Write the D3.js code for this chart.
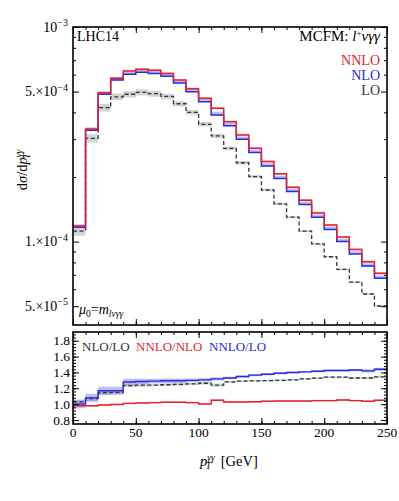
<!DOCTYPE html>
<html>
<head>
<meta charset="utf-8">
<script src="https://cdn.jsdelivr.net/npm/d3@7"></script>
<style>
    body { margin: 0; background: #fff; }
    svg { display: block; }
    svg text { font-family: 'Liberation Serif', 'Times New Roman', Times, 'DejaVu Serif', serif; }
</style>
</head>
<body>
<div id="chart"></div>
<script>
// Bin edges in p_T^{γγ} (GeV)
const binEdges = [0, 10, 20, 30, 40, 50, 60, 70, 80, 90, 100, 110, 120, 130, 140, 150, 160, 170, 180, 190, 200, 210, 220, 230, 240, 250]

// dσ/dp_T per bin (pb/GeV)
const nnlo = [1.183e-4, 3.35e-4, 4.94e-4, 5.77e-4, 6.24e-4, 6.35e-4, 6.28e-4, 6.08e-4, 5.66e-4, 5.16e-4, 4.65e-4, 4.18e-4, 3.62e-4, 3.14e-4, 2.72e-4, 2.36e-4, 2.07e-4, 1.79e-4, 1.56e-4, 1.36e-4, 1.195e-4, 1.05e-4, 9.2e-5, 8.05e-5, 7.12e-5]
const nlo = [1.166e-4, 3.3e-4, 4.86e-4, 5.66e-4, 6.02e-4, 6.15e-4, 6.08e-4, 5.89e-4, 5.48e-4, 4.99e-4, 4.49e-4, 3.89e-4, 3.47e-4, 3.0e-4, 2.6e-4, 2.25e-4, 1.97e-4, 1.71e-4, 1.49e-4, 1.3e-4, 1.14e-4, 1.0e-4, 8.75e-5, 7.7e-5, 6.75e-5]
const lo = [1.12e-4, 3.03e-4, 4.21e-4, 4.73e-4, 4.86e-4, 4.96e-4, 4.89e-4, 4.75e-4, 4.39e-4, 4.0e-4, 3.52e-4, 3.11e-4, 2.72e-4, 2.33e-4, 2.01e-4, 1.74e-4, 1.5e-4, 1.3e-4, 1.12e-4, 9.75e-5, 8.5e-5, 7.43e-5, 6.48e-5, 5.7e-5, 5.01e-5]

// Scale-variation bands, relative (down, up)
const nnloBandDown = [0.012, 0.012, 0.012, 0.012, 0.012, 0.012, 0.012, 0.012, 0.012, 0.012, 0.012, 0.012, 0.012, 0.012, 0.012, 0.012, 0.012, 0.012, 0.012, 0.012, 0.012, 0.012, 0.012, 0.012, 0.012]
const nnloBandUp = [0.012, 0.012, 0.012, 0.012, 0.012, 0.012, 0.012, 0.012, 0.012, 0.012, 0.012, 0.012, 0.012, 0.012, 0.012, 0.012, 0.012, 0.012, 0.012, 0.012, 0.012, 0.012, 0.012, 0.012, 0.012]
const nloBandDown = [0.005, 0.005, 0.005, 0.005, 0.005, 0.005, 0.005, 0.005, 0.005, 0.005, 0.005, 0.005, 0.005, 0.005, 0.005, 0.005, 0.005, 0.005, 0.005, 0.005, 0.005, 0.005, 0.005, 0.005, 0.005]
const nloBandUp = [0.03, 0.03, 0.03, 0.03, 0.03, 0.03, 0.03, 0.03, 0.03, 0.03, 0.03, 0.035, 0.03, 0.03, 0.03, 0.03, 0.03, 0.03, 0.03, 0.03, 0.03, 0.03, 0.03, 0.03, 0.03]
const loBand = [0.05, 0.045, 0.04, 0.035, 0.035, 0.033, 0.032, 0.03, 0.028, 0.026, 0.024, 0.022, 0.02, 0.018, 0.016, 0.014, 0.012, 0.011, 0.01, 0.01, 0.009, 0.009, 0.008, 0.008, 0.008]

// Ratio panel
const ratioNloLo = [1.03, 1.07, 1.145, 1.15, 1.235, 1.24, 1.24, 1.245, 1.25, 1.256, 1.264, 1.24, 1.28, 1.29, 1.294, 1.297, 1.3, 1.306, 1.319, 1.328, 1.34, 1.34, 1.33, 1.33, 1.344]
const ratioNnloNlo = [0.98, 0.98, 0.99, 0.995, 1.01, 1.015, 1.02, 1.025, 1.025, 1.02, 1.003, 1.049, 1.028, 1.028, 1.03, 1.036, 1.04, 1.04, 1.04, 1.045, 1.045, 1.053, 1.045, 1.036, 1.05]
const ratioNnloLo = [1.0, 1.08, 1.17, 1.17, 1.28, 1.285, 1.29, 1.295, 1.295, 1.3, 1.306, 1.319, 1.33, 1.348, 1.366, 1.378, 1.39, 1.4, 1.407, 1.416, 1.424, 1.424, 1.43, 1.42, 1.44]
const bandNloLo = [0.03, 0.03, 0.03, 0.025, 0.02, 0.02, 0.015, 0.015, 0.015, 0.015, 0.015, 0.02, 0.012, 0.012, 0.012, 0.012, 0.012, 0.012, 0.012, 0.012, 0.012, 0.012, 0.012, 0.012, 0.015]
const bandNnloNlo = [0.01, 0.01, 0.01, 0.01, 0.01, 0.01, 0.01, 0.01, 0.01, 0.01, 0.01, 0.012, 0.01, 0.01, 0.01, 0.01, 0.01, 0.01, 0.01, 0.01, 0.01, 0.012, 0.01, 0.01, 0.01]
const bandNnloLo = [0.05, 0.05, 0.05, 0.05, 0.04, 0.035, 0.03, 0.03, 0.03, 0.025, 0.02, 0.02, 0.015, 0.015, 0.015, 0.012, 0.012, 0.012, 0.012, 0.012, 0.012, 0.012, 0.015, 0.02, 0.02]

// Tick labels
const xTickLabels = [0, 50, 100, 150, 200, 250]
const yTickLabels = [
    { v: 1e-3, mant: '', exp: '−3' },
    { v: 5e-4, mant: '5.×', exp: '−4' },
    { v: 1e-4, mant: '1.×', exp: '−4' },
    { v: 5e-5, mant: '5.×', exp: '−5' },
]
const ratioTickLabels = [0.8, 1.0, 1.2, 1.4, 1.6, 1.8]

// Colours
const red = '#e3232c'
const blue = '#2b2bdc'
const dark = '#333333'

/**
 * Frame geometry
 */
const width = 399
const height = 501
const frame = { left: 73, right: 387, top: 27, mainBottom: 325, ratioTop: 332, ratioBottom: 424 }

const svg = d3
    .select('#chart')
    .append('svg')
    .attr('width', width)
    .attr('height', height)

const x = d3.scaleLinear().domain([0, 250]).range([frame.left, frame.right])
const y = d3.scaleLog().domain([4.087e-5, 1e-3]).range([frame.mainBottom, frame.top])
const r = d3.scaleLinear().domain([0.75, 1.91]).range([frame.ratioBottom, frame.ratioTop])

// Step helpers: repeat the last value at the right edge
const steps = (vals, down, up) =>
    binEdges.map((e, i) => {
        const k = Math.min(i, vals.length - 1)
        return { x: e, v: vals[k], lo: down ? down(k) : 0, hi: up ? up(k) : 0 }
    })

const defs = svg.append('defs')
defs.append('clipPath').attr('id', 'clip-main')
    .append('rect')
    .attr('x', frame.left).attr('y', frame.top)
    .attr('width', frame.right - frame.left).attr('height', frame.mainBottom - frame.top)
defs.append('clipPath').attr('id', 'clip-ratio')
    .append('rect')
    .attr('x', frame.left).attr('y', frame.ratioTop)
    .attr('width', frame.right - frame.left).attr('height', frame.ratioBottom - frame.ratioTop)

/**
 * Main panel
 */
const main = svg.append('g').attr('clip-path', 'url(#clip-main)')

const mainArea = d3.area()
    .x((d) => x(d.x))
    .y0((d) => y(d.lo))
    .y1((d) => y(d.hi))
    .curve(d3.curveStepAfter)

const mainLine = d3.line()
    .x((d) => x(d.x))
    .y((d) => y(d.v))
    .curve(d3.curveStepAfter)

const mainSeries = [
    { vals: lo, down: loBand, up: loBand, band: '#d4d4d4', color: dark, dash: '4,2.5', w: 1.3 },
    { vals: nlo, down: nloBandDown, up: nloBandUp, band: 'rgba(110,110,235,0.45)', color: blue, w: 1.5 },
    { vals: nnlo, down: nnloBandDown, up: nnloBandUp, band: 'rgba(235,110,110,0.45)', color: red, w: 1.5 },
]

mainSeries.forEach((s) => {
    main.append('path')
        .datum(steps(s.vals, (k) => s.vals[k] * (1 - s.down[k]), (k) => s.vals[k] * (1 + s.up[k])))
        .attr('d', mainArea)
        .attr('fill', s.band)
})
mainSeries.forEach((s) => {
    main.append('path')
        .datum(steps(s.vals))
        .attr('d', mainLine)
        .attr('fill', 'none')
        .attr('stroke', s.color)
        .attr('stroke-width', s.w)
        .attr('stroke-dasharray', s.dash || null)
})

/**
 * Ratio panel
 */
const ratio = svg.append('g').attr('clip-path', 'url(#clip-ratio)')

const ratioArea = d3.area()
    .x((d) => x(d.x))
    .y0((d) => r(d.lo))
    .y1((d) => r(d.hi))
    .curve(d3.curveStepAfter)

const ratioLine = d3.line()
    .x((d) => x(d.x))
    .y((d) => r(d.v))
    .curve(d3.curveStepAfter)

const ratioSeries = [
    { vals: ratioNloLo, band: bandNloLo, fill: '#d4d4d4', color: dark, dash: '4,2.5', w: 1.3 },
    { vals: ratioNnloNlo, band: bandNnloNlo, fill: 'rgba(235,110,110,0.45)', color: red, w: 1.4 },
    { vals: ratioNnloLo, band: bandNnloLo, fill: 'rgba(110,110,235,0.45)', color: blue, w: 1.4 },
]

ratioSeries.forEach((s) => {
    ratio.append('path')
        .datum(steps(s.vals, (k) => s.vals[k] - s.band[k], (k) => s.vals[k] + s.band[k]))
        .attr('d', ratioArea)
        .attr('fill', s.fill)
})
ratioSeries.forEach((s) => {
    ratio.append('path')
        .datum(steps(s.vals))
        .attr('d', ratioLine)
        .attr('fill', 'none')
        .attr('stroke', s.color)
        .attr('stroke-width', s.w)
        .attr('stroke-dasharray', s.dash || null)
})

/**
 * Axes (ticks point inward)
 */
const tickStyle = (g) => {
    g.select('.domain').remove()
    g.selectAll('line').attr('stroke', '#000').attr('stroke-width', 1)
    g.selectAll('text').remove()
}

const addX = (yPos, axisFn) => {
    svg.append('g').attr('transform', `translate(0,${yPos})`)
        .call(axisFn(x).tickValues(binEdges).tickSize(-3)).call(tickStyle)
    svg.append('g').attr('transform', `translate(0,${yPos})`)
        .call(axisFn(x).tickValues(xTickLabels).tickSize(-6)).call(tickStyle)
}
addX(frame.top, d3.axisTop)
addX(frame.mainBottom, d3.axisBottom)
addX(frame.ratioTop, d3.axisTop)
addX(frame.ratioBottom, d3.axisBottom)

// Log-axis ticks on the main panel, linear ticks on the ratio panel
const logMinor = [6e-5, 7e-5, 8e-5, 9e-5, 2e-4, 3e-4, 4e-4, 6e-4, 7e-4, 8e-4, 9e-4]
const logMajor = yTickLabels.map((t) => t.v)
;[[d3.axisLeft, frame.left], [d3.axisRight, frame.right]].forEach(([fn, xPos]) => {
    svg.append('g').attr('transform', `translate(${xPos},0)`)
        .call(fn(y).tickValues(logMinor).tickSize(-3)).call(tickStyle)
    svg.append('g').attr('transform', `translate(${xPos},0)`)
        .call(fn(y).tickValues(logMajor).tickSize(-6)).call(tickStyle)
    svg.append('g').attr('transform', `translate(${xPos},0)`)
        .call(fn(r).tickValues(d3.range(0.8, 1.9, 0.04)).tickSize(-3)).call(tickStyle)
    svg.append('g').attr('transform', `translate(${xPos},0)`)
        .call(fn(r).tickValues(ratioTickLabels).tickSize(-6)).call(tickStyle)
})

// Frames
;[[frame.top, frame.mainBottom], [frame.ratioTop, frame.ratioBottom]].forEach(([t, b]) => {
    svg.append('rect')
        .attr('x', frame.left).attr('y', t)
        .attr('width', frame.right - frame.left).attr('height', b - t)
        .attr('fill', 'none')
        .attr('stroke', '#000')
        .attr('stroke-width', 1.6)
})

/**
 * Tick labels
 */
svg.append('g')
    .selectAll('text')
    .data(yTickLabels)
    .join('text')
    .attr('x', frame.left - 5)
    .attr('y', (d) => y(d.v) + 4.5)
    .attr('text-anchor', 'end')
    .attr('font-size', 14)
    .each(function (d) {
        const t = d3.select(this)
        t.append('tspan').text(`${d.mant}10`)
        t.append('tspan').attr('dy', -5.5).attr('font-size', 10).text(d.exp)
    })

svg.append('g')
    .selectAll('text')
    .data(ratioTickLabels)
    .join('text')
    .attr('x', frame.left - 3)
    .attr('y', (d) => r(d) + 4.5)
    .attr('text-anchor', 'end')
    .attr('font-size', 13.5)
    .text((d) => d.toFixed(1))

svg.append('g')
    .selectAll('text')
    .data(xTickLabels)
    .join('text')
    .attr('x', (d) => x(d))
    .attr('y', frame.ratioBottom + 13)
    .attr('text-anchor', 'middle')
    .attr('font-size', 13.5)
    .text((d) => d)

/**
 * Annotations
 */
svg.append('text')
    .attr('x', 77).attr('y', 41)
    .attr('font-size', 14)
    .text('LHC14')

const proc = svg.append('text')
    .attr('x', 380).attr('y', 41)
    .attr('text-anchor', 'end')
    .attr('font-size', 15)
proc.append('tspan').text('MCFM: ')
proc.append('tspan').attr('font-style', 'italic').text('l')
proc.append('tspan').attr('dy', -5).attr('font-size', 9).text('+')
proc.append('tspan').attr('dy', 5).attr('font-style', 'italic').text('νγγ')

const legend = [
    { label: 'NNLO', color: red },
    { label: 'NLO', color: blue },
    { label: 'LO', color: dark },
]
svg.append('g')
    .selectAll('text')
    .data(legend)
    .join('text')
    .attr('x', 380)
    .attr('y', (d, i) => 65 + i * 15)
    .attr('text-anchor', 'end')
    .attr('font-size', 14)
    .attr('fill', (d) => d.color)
    .text((d) => d.label)

const scale = svg.append('text')
    .attr('x', 79).attr('y', 314)
    .attr('font-size', 14)
scale.append('tspan').attr('font-style', 'italic').text('μ')
scale.append('tspan').attr('dy', 3).attr('font-size', 9.5).text('0')
scale.append('tspan').attr('dy', -3).text('=')
scale.append('tspan').attr('font-style', 'italic').text('m')
scale.append('tspan').attr('dy', 3).attr('font-size', 9.5).attr('font-style', 'italic').text('lνγγ')

const ratioLegend = [
    { label: 'NLO/LO', color: dark, x: 82 },
    { label: 'NNLO/NLO', color: red, x: 136 },
    { label: 'NNLO/LO', color: blue, x: 209 },
]
svg.append('g')
    .selectAll('text')
    .data(ratioLegend)
    .join('text')
    .attr('x', (d) => d.x)
    .attr('y', 351)
    .attr('font-size', 13)
    .attr('fill', (d) => d.color)
    .text((d) => d.label)

// Axis titles (superscript γγ stacked over subscript T)
const xTitle = svg.append('text')
    .attr('x', 200).attr('y', 466)
    .attr('font-size', 14.5)
xTitle.append('tspan').attr('font-style', 'italic').text('p')
xTitle.append('tspan').attr('dy', -5).attr('font-size', 9.5).attr('font-style', 'italic').text('γγ')
xTitle.append('tspan').attr('dx', -9).attr('dy', 8).attr('font-size', 9.5).attr('font-style', 'italic').text('T')
xTitle.append('tspan').attr('dx', 6).attr('dy', -3).text(' [GeV]')

const yTitle = svg.append('text')
    .attr('transform', 'translate(27,170) rotate(-90)')
    .attr('text-anchor', 'middle')
    .attr('font-size', 14.5)
yTitle.append('tspan').text('d')
yTitle.append('tspan').attr('font-style', 'italic').text('σ')
yTitle.append('tspan').text('/d')
yTitle.append('tspan').attr('font-style', 'italic').text('p')
yTitle.append('tspan').attr('dy', -5).attr('font-size', 9.5).attr('font-style', 'italic').text('γγ')
yTitle.append('tspan').attr('dx', -9).attr('dy', 8).attr('font-size', 9.5).attr('font-style', 'italic').text('T')
</script>
</body>
</html>
